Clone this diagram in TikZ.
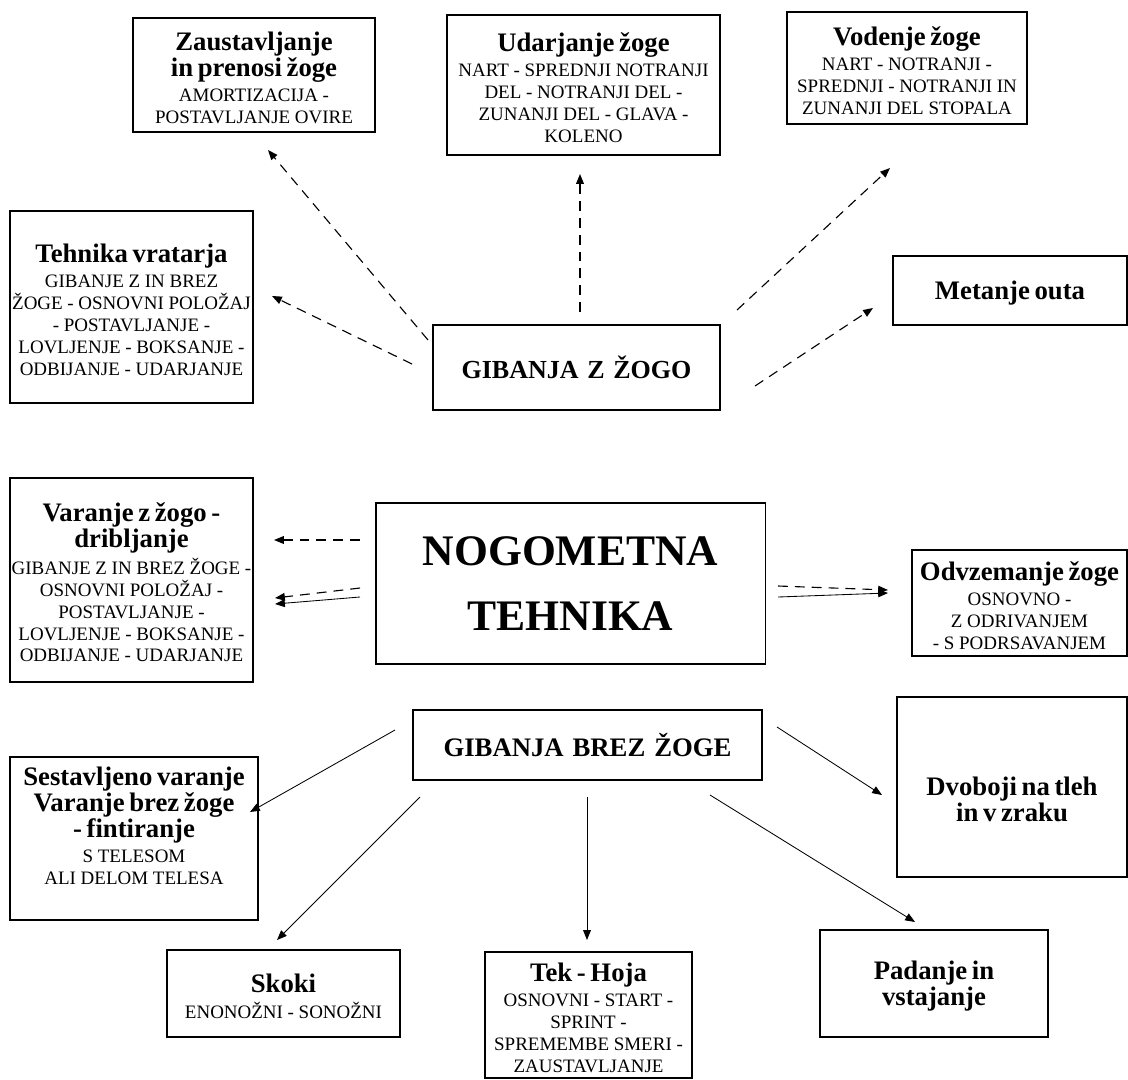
\documentclass[tikz,border=0pt]{standalone}
\usepackage{fontspec}
\setmainfont{Liberation Serif}
\usetikzlibrary{arrows.meta}

\newcommand{\ttl}[1]{\par{\fontsize{19}{17}\selectfont\bfseries #1\par}}
\newcommand{\sml}[1]{\par\vspace{2.5pt}{\fontsize{13.5}{15.5}\selectfont #1\par}}

\tikzset{
  box/.style={draw, line width=0.8pt, align=center, inner sep=0pt, fill=white},
  dasharrow/.style={dash pattern=on 7pt off 5pt, line width=0.8pt, -{Triangle[length=7pt,width=5.5pt]}},
  solidarrow/.style={line width=0.6pt, -{Triangle[length=7pt,width=5.5pt]}},
}

\begin{document}
\begin{tikzpicture}[x=0.025cm,y=-0.025cm]
  \useasboundingbox (0,0) rectangle (1128,1079);

  % top row
  \node[box,text width=6.05cm,minimum height=2.85cm] (zaust) at (254,75)
    {\ttl{Zaustavljanje\\in prenosi žoge}\sml{AMORTIZACIJA -\\POSTAVLJANJE OVIRE}};
  \node[box,text width=6.825cm,minimum height=3.5cm] (udar) at (583.5,85)
    {\ttl{Udarjanje žoge}\sml{NART - SPREDNJI NOTRANJI\\DEL - NOTRANJI DEL -\\ZUNANJI DEL - GLAVA -\\KOLENO}};
  \node[box,text width=6cm,minimum height=2.8cm] (vod) at (907,68)
    {\ttl{Vodenje žoge}\sml{NART - NOTRANJI -\\SPREDNJI - NOTRANJI IN\\ZUNANJI DEL STOPALA}};

  % gibanja z zogo
  \node[box,text width=6.075cm,minimum height=4.8cm] (vrat) at (131.5,307)
    {\ttl{Tehnika vratarja}\sml{GIBANJE Z IN BREZ\\ŽOGE - OSNOVNI POLOŽAJ\\- POSTAVLJANJE -\\LOVLJENJE - BOKSANJE -\\ODBIJANJE - UDARJANJE}};
  \node[box,text width=7.175cm,minimum height=2.125cm,font=\fontsize{18.5}{20}\selectfont\bfseries] (zogo) at (576.5,367.5)
    {GIBANJA Z ŽOGO};
  \node[box,text width=5.85cm,minimum height=1.725cm] (out) at (1010,290.5)
    {\ttl{Metanje outa}};

  % middle row
  \node[box,text width=6.075cm,minimum height=5.1cm] (varanje) at (131.5,580)
    {\ttl{Varanje z žogo -\\dribljanje}\sml{\mbox{GIBANJE Z IN BREZ ŽOGE -}\\OSNOVNI POLOŽAJ -\\POSTAVLJANJE -\\LOVLJENJE - BOKSANJE -\\ODBIJANJE - UDARJANJE}};
  \node[box,text width=9.725cm,minimum height=4.025cm,font=\fontsize{31}{46}\selectfont\bfseries] (teh) at (570.5,583.5)
    {NOGOMETNA\\TEHNIKA};
  \node[box,text width=5.375cm,minimum height=2.65cm] (odvz) at (1019.5,603)
    {\ttl{Odvzemanje žoge}\sml{OSNOVNO -\\Z ODRIVANJEM\\- S PODRSAVANJEM}};

  % gibanja brez zoge
  \node[box,text width=8.725cm,minimum height=1.75cm,font=\fontsize{19}{20}\selectfont\bfseries] (brez) at (587.5,745)
    {GIBANJA BREZ ŽOGE};
  \node[box,text width=6.2cm,minimum height=4.075cm] (sest) at (134,838.5)
    {\ttl{Sestavljeno varanje\\Varanje brez žoge\\- fintiranje}\sml{S TELESOM\\ALI DELOM TELESA}\vspace{10pt}\rule{0pt}{0pt}};
  \node[box,text width=5.75cm,minimum height=4.5cm] (dvob) at (1012,787)
    {\vspace{14pt}\ttl{Dvoboji na tleh\\in v zraku}};
  \node[box,text width=5.825cm,minimum height=2.175cm] (skoki) at (283.5,993.5)
    {\ttl{Skoki}\sml{ENONOŽNI - SONOŽNI}};
  \node[box,text width=5.175cm,minimum height=3.15cm] (tek) at (588.5,1015)
    {\ttl{Tek - Hoja}\sml{OSNOVNI - START -\\SPRINT -\\SPREMEMBE SMERI -\\ZAUSTAVLJANJE}};
  \node[box,text width=5.7cm,minimum height=2.675cm] (pad) at (934,983.5)
    {\ttl{Padanje in\\vstajanje}};

  % arrow ends
  \coordinate (zo1) at (428,340);  \coordinate (zt1) at (268,150);
  \coordinate (zo2) at (580,312);  \coordinate (zt2) at (580,174);
  \coordinate (zo3) at (737,310);  \coordinate (zt3) at (890,168);
  \coordinate (zo4) at (412,364);  \coordinate (zt4) at (272,296);
  \coordinate (zo5) at (755,386);  \coordinate (zt5) at (873,308);
  \coordinate (to1) at (360,540);  \coordinate (tt1) at (274,540);
  \coordinate (to2) at (360,588);  \coordinate (tt2) at (275,598);
  \coordinate (to3) at (360,597);  \coordinate (tt3) at (275,604);
  \coordinate (to4) at (778,586);  \coordinate (tt4) at (888,590);
  \coordinate (to5) at (778,597);  \coordinate (tt5) at (888,593);
  \coordinate (bo1) at (395,730);  \coordinate (bt1) at (250,812);
  \coordinate (bo2) at (420,797);  \coordinate (bt2) at (277,940);
  \coordinate (bo3) at (587,797);  \coordinate (bt3) at (587,940);
  \coordinate (bo4) at (710,795);  \coordinate (bt4) at (915,922);
  \coordinate (bo5) at (777,727);  \coordinate (bt5) at (882,795);

  \foreach \i in {1,...,5}
    \draw[dasharrow] (zo\i) -- (zt\i);
  \foreach \i in {1,2,4}
    \draw[dasharrow] (to\i) -- (tt\i);
  \foreach \i in {3,5}
    \draw[solidarrow] (to\i) -- (tt\i);
  \foreach \i in {1,...,5}
    \draw[solidarrow] (bo\i) -- (bt\i);
\end{tikzpicture}
\end{document}
